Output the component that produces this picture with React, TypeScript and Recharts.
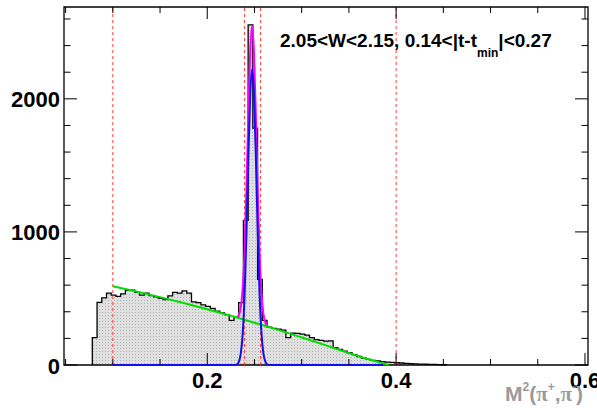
import React from "react";
import {
  ComposedChart,
  Area,
  Line,
  XAxis,
  YAxis,
  ReferenceLine,
  ReferenceArea,
} from "recharts";

// histogram: 0.005 wide bins, first bin starts at 0.0783
const BIN_START = 0.0783;
const BIN_WIDTH = 0.005;
const HIST_COUNTS = [
  205, 470, 505, 540, 525, 515, 535, 560, 562, 545, 525, 540, 522, 512, 500,
  492, 520, 545, 540, 557, 540, 475, 468, 452, 440, 425, 405, 392, 378, 335,
  358, 468, 1087, 2555, 1780, 643, 335, 285, 275, 270, 262, 205, 240, 238,
  232, 225, 205, 190, 185, 180, 182, 130, 118, 105, 92, 78, 64, 52, 42, 35, 30,
  25, 22, 20, 17, 15, 12, 10, 8, 7, 6, 5, 4, 3, 2,
];

// background fit (green)
const BKG_X = [0.1, 0.125, 0.15, 0.175, 0.2, 0.225, 0.25, 0.275, 0.3, 0.325, 0.35, 0.37, 0.392];
const BKG_Y = [592, 552, 510, 466, 419, 370, 318, 264, 207, 149, 90, 45, 0];

// signal gaussian (blue)
const SIG_X = [
  0.1, 0.2275, 0.2315, 0.2335, 0.2355, 0.2375, 0.2395, 0.2415, 0.2435, 0.2455,
  0.2475, 0.2495, 0.2515, 0.2535, 0.2555, 0.2575, 0.2595, 0.2615, 0.2635,
  0.2675, 0.386,
];
const SIG_Y = [
  0, 0, 5, 25, 85, 230, 520, 985, 1550, 2030, 2225, 2030, 1550, 985, 520, 230,
  85, 25, 5, 0, 0,
];

// total fit (magenta)
const TOT_X = [
  0.2315, 0.2335, 0.2355, 0.2375, 0.2395, 0.2415, 0.2435, 0.2455, 0.2475,
  0.2495, 0.2515, 0.2535, 0.2555, 0.2575, 0.2595, 0.2615, 0.2635, 0.2655,
];
const TOT_Y = [
  361, 377, 433, 574, 860, 1321, 1881, 2357, 2548, 2349, 1865, 1296, 826, 532,
  383, 319, 294, 285,
];

const CUT_LINES = [0.1, 0.2395, 0.2565, 0.4];

const X_MIN = 0.0483;
const X_MAX = 0.6032;
const Y_MAX = 2690;
const X_TICKS = [0.05, 0.1, 0.15, 0.2, 0.25, 0.3, 0.35, 0.4, 0.45, 0.5, 0.55, 0.6];
const X_LABELS = [0.2, 0.4, 0.6];
const Y_TICKS = [0, 200, 400, 600, 800, 1000, 1200, 1400, 1600, 1800, 2000, 2200, 2400, 2600];
const Y_LABELS = [0, 1000, 2000];

const W = 597;
const H = 408;
const LEFT = 64;
const RIGHT = 588;
const TOP = 7;
const BOTTOM = 365;
const FONT = "'Liberation Sans', Arial, Helvetica, sans-serif";
const SERIF = "'Liberation Serif', 'Times New Roman', serif";

const histData = [
  { x: BIN_START, y: 0 },
  ...HIST_COUNTS.map((c, i) => ({ x: BIN_START + i * BIN_WIDTH, y: c })),
  { x: BIN_START + HIST_COUNTS.length * BIN_WIDTH, y: 0 },
];
const toPts = (xs: number[], ys: number[]) => xs.map((x, i) => ({ x, y: ys[i] }));
const bkgData = toPts(BKG_X, BKG_Y);
const sigData = toPts(SIG_X, SIG_Y);
const totData = toPts(TOT_X, TOT_Y);

const isIn = (arr: number[], v: number) => arr.some((a) => Math.abs(a - v) < 1e-6);

function XTick(props: any) {
  const { x, payload } = props;
  const major = isIn(X_LABELS, payload.value);
  const len = major ? 12 : 6;
  return (
    <g>
      <line x1={x} x2={x} y1={BOTTOM} y2={BOTTOM - len} stroke="#000" />
      <line x1={x} x2={x} y1={TOP} y2={TOP + len} stroke="#000" />
      {major && (
        <text x={x} y={BOTTOM + 23} textAnchor="middle" fontFamily={FONT} fontWeight="bold" fontSize={22} fill="#000">
          {String(payload.value)}
        </text>
      )}
    </g>
  );
}

function YTick(props: any) {
  const { y, payload } = props;
  const major = isIn(Y_LABELS, payload.value);
  const len = major ? 13 : 6.5;
  return (
    <g>
      <line x1={LEFT} x2={LEFT + len} y1={y} y2={y} stroke="#000" />
      <line x1={RIGHT} x2={RIGHT - len} y1={y} y2={y} stroke="#000" />
      {major && (
        <text x={LEFT - 4} y={y + 8.5} textAnchor="end" fontFamily={FONT} fontWeight="bold" fontSize={22} fill="#000">
          {String(payload.value)}
        </text>
      )}
    </g>
  );
}

export default function App() {
  return (
    <div style={{ position: "absolute", left: 0, top: 0, width: W, height: H, background: "#fff", overflow: "hidden" }}>
      <ComposedChart width={W} height={H} margin={{ top: TOP, right: W - RIGHT, bottom: 0, left: 0 }}>
        <defs>
          <pattern id="histFill" width="3" height="3" patternUnits="userSpaceOnUse">
            <rect width="3" height="3" fill="#e0e0e0" />
            <rect width="1" height="1" fill="#b0b0b0" />
          </pattern>
        </defs>
        <XAxis
          type="number"
          dataKey="x"
          domain={[X_MIN, X_MAX]}
          ticks={X_TICKS}
          interval={0}
          tick={XTick}
          tickLine={false}
          axisLine={false}
          height={H - BOTTOM}
        />
        <YAxis
          type="number"
          domain={[0, Y_MAX]}
          ticks={Y_TICKS}
          interval={0}
          tick={YTick}
          tickLine={false}
          axisLine={false}
          width={LEFT}
        />
        <Area
          data={histData}
          dataKey="y"
          type="stepAfter"
          stroke="#000"
          strokeWidth={1.3}
          fill="url(#histFill)"
          fillOpacity={1}
          isAnimationActive={false}
          dot={false}
          activeDot={false}
        />
        {CUT_LINES.map((v) => (
          <ReferenceLine key={v} x={v} stroke="#ff3b3b" strokeWidth={1} strokeDasharray="3 3" />
        ))}
        <Line data={totData} dataKey="y" type="monotone" stroke="#ff00ff" strokeWidth={2} dot={false} isAnimationActive={false} />
        <Line data={bkgData} dataKey="y" type="monotone" stroke="#00dd00" strokeWidth={2} dot={false} isAnimationActive={false} />
        <Line data={sigData} dataKey="y" type="monotone" stroke="#1010ee" strokeWidth={2} dot={false} isAnimationActive={false} />
        <ReferenceArea x1={X_MIN} x2={X_MAX} y1={0} y2={Y_MAX} fill="none" stroke="#000" strokeWidth={1.3} />
      </ComposedChart>
      <svg width={W} height={H} style={{ position: "absolute", left: 0, top: 0, pointerEvents: "none" }}>
        <text x={280} y={47} fontFamily={FONT} fontWeight="bold" fontSize={19} fill="#000">
          2.05&lt;W&lt;2.15, 0.14&lt;|t-t
          <tspan fontSize={12} dy={10}>min</tspan>
          <tspan dy={-10}>|&lt;0.27</tspan>
        </text>
        <text x={505} y={401} fontFamily={FONT} fontWeight="bold" fontSize={21} fill="#9a9a9a">
          M<tspan fontSize={12} dy={-10}>2</tspan>
          <tspan dy={10}>(</tspan>
          <tspan fontFamily={SERIF}>π</tspan>
          <tspan fontSize={12} dy={-10}>+</tspan>
          <tspan dy={10}>,</tspan>
          <tspan fontFamily={SERIF}>π</tspan>
          <tspan fontSize={12} dy={-10}>-</tspan>
          <tspan dy={10}>)</tspan>
        </text>
      </svg>
    </div>
  );
}
